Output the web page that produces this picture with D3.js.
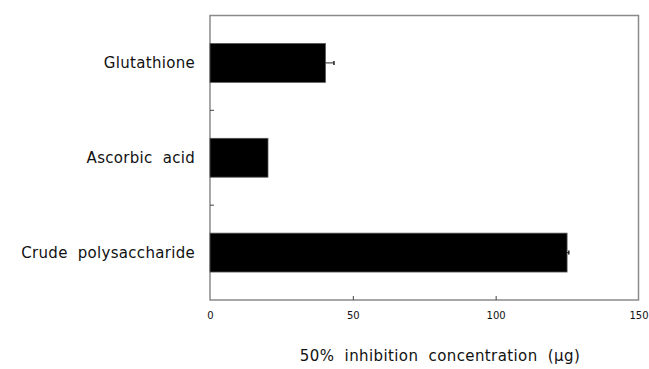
<!DOCTYPE html>
<html><head><meta charset="utf-8">
<script src="https://cdn.jsdelivr.net/npm/d3@7"></script>
<style>body{margin:0;background:#fff}svg{display:block}text{font-family:"DejaVu Sans",sans-serif;fill:#111}</style>
</head><body>
<script>
const categories = ["Glutathione", "Ascorbic acid", "Crude polysaccharide"];
const values = [40.4, 20.3, 125.0];
const errors = [3.0, 0.0, 0.6];
const xTicks = [0, 50, 100, 150];

const W = 649, H = 369;
const m = {left: 210, top: 15.5, right: 10.5, bottom: 69};
const svg = d3.select("body").append("svg").attr("width", W).attr("height", H);
const x = d3.scaleLinear().domain([0, 150]).range([m.left, W - m.right]);
const y = d3.scaleBand().domain(categories).range([m.top, H - m.bottom]);
const barH = y.bandwidth() * 0.41;

const frame = "#8a8a8a";
// frame
svg.append("rect").attr("x", x(0)).attr("y", m.top)
  .attr("width", x(150) - x(0)).attr("height", H - m.bottom - m.top)
  .attr("fill", "none").attr("stroke", frame).attr("stroke-width", 1.5);

// x ticks (inward)
const xAxis = d3.axisBottom(x).tickValues(xTicks).tickSize(-4).tickPadding(12).tickFormat(d3.format("d"));
const gx = svg.append("g").attr("transform", `translate(0,${H - m.bottom})`).call(xAxis);
gx.select(".domain").remove();
gx.selectAll(".tick line").attr("stroke", "#444");
gx.selectAll(".tick text").attr("font-size", 10).attr("font-family", "DejaVu Sans, sans-serif").attr("fill", "#111");
gx.selectAll(".tick").filter(d => d === 0 || d === 150).select("line").remove();

// band boundary ticks on left axis (inward)
const bounds = categories.slice(1).map(c => y(c));
svg.selectAll(".btick").data(bounds).enter().append("line")
  .attr("x1", x(0)).attr("x2", x(0) + 4).attr("y1", d => d).attr("y2", d => d)
  .attr("stroke", "#444").attr("stroke-width", 1);

// category labels
svg.selectAll(".cat").data(categories).enter().append("text")
  .attr("x", 195).attr("y", d => y(d) + y.bandwidth() / 2 + 1)
  .attr("text-anchor", "end").attr("dominant-baseline", "middle")
  .attr("font-size", 15).attr("letter-spacing", 0.3).attr("word-spacing", 5)
  .text(d => d);

// bars
svg.selectAll(".bar").data(categories).enter().append("rect")
  .attr("x", x(0)).attr("y", d => y(d) + (y.bandwidth() - barH) / 2)
  .attr("width", (d, i) => x(values[i]) - x(0)).attr("height", barH)
  .attr("fill", "#000").attr("stroke", "#555").attr("stroke-width", 0.8);

// error bars
categories.forEach((c, i) => {
  if (errors[i] <= 0) return;
  const cy = y(c) + y.bandwidth() / 2;
  svg.append("line").attr("x1", x(values[i])).attr("x2", x(values[i] + errors[i]))
    .attr("y1", cy).attr("y2", cy).attr("stroke", "#222").attr("stroke-width", 1);
  svg.append("line").attr("x1", x(values[i] + errors[i])).attr("x2", x(values[i] + errors[i]))
    .attr("y1", cy - 2).attr("y2", cy + 2).attr("stroke", "#222").attr("stroke-width", 1.5);
});

// x label
svg.append("text").attr("x", 440).attr("y", 361).attr("text-anchor", "middle")
  .attr("font-size", 15).attr("letter-spacing", 0.4).attr("word-spacing", 5)
  .text("50% inhibition concentration (μg)");
</script>
</body></html>
